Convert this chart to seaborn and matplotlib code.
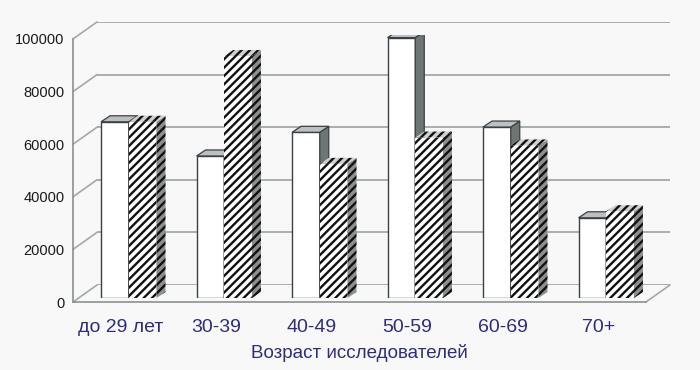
import pandas as pd
import seaborn as sns
import matplotlib
matplotlib.use("Agg")
from matplotlib import pyplot as plt
from matplotlib.patches import Polygon
from matplotlib.lines import Line2D

categories = ["до 29 лет", "30-39", "40-49", "50-59", "60-69", "70+"]
series_names = ["A", "B"]
values_a = [67000, 54000, 63000, 99000, 65000, 30500]
values_b = [67000, 92000, 51000, 61000, 58000, 33000]
y_ticks = [0, 20000, 40000, 60000, 80000, 100000]
x_title = "Возраст исследователей"

df = pd.DataFrame({
    "cat": categories * 2,
    "val": values_a + values_b,
    "series": [series_names[0]] * 6 + [series_names[1]] * 6,
})

sns.set_style("white")
plt.rcParams["font.family"] = ["Liberation Sans", "DejaVu Sans"]
plt.rcParams["hatch.linewidth"] = 1.7

W, H = 700, 370
fig = plt.figure(figsize=(7, 3.7), dpi=100, facecolor="#f8f8f8")

# pixel geometry of the pseudo 3d box
left, right, y0px, y1px = 73, 646, 302, 39
depth = (24, 17)
bar_shift = (8, 4)
side = (9, 6)

def rect(dx, dy):
    return [(left + dx) / W, (H - y0px + dy) / H, (right - left) / W, (y0px - y1px) / H]

ax_back = fig.add_axes(rect(*depth), zorder=0)
ax = fig.add_axes(rect(0, 0), zorder=1)
ax_bar = fig.add_axes(rect(*bar_shift), zorder=2)
for a in (ax_back, ax, ax_bar):
    a.set_xlim(-0.5, len(categories) - 0.5)
    a.set_ylim(0, 100000)
    a.set_facecolor("none")

# back wall grid
ax_back.set_yticks(y_ticks)
ax_back.grid(axis="y", color="#a3a8a8", lw=1.3)
ax_back.set_xticks([])
ax_back.tick_params(left=False, labelleft=False)
sns.despine(ax=ax_back, left=True, bottom=True)

# bars
sns.barplot(data=df, x="cat", y="val", hue="series", order=categories,
            palette={"A": "white", "B": "white"}, width=0.58, gap=0,
            legend=False, ax=ax_bar)
ax_bar.set_xlim(-0.5, len(categories) - 0.5)
ax_bar.set_ylim(0, 100000)
ax_bar.axis("off")

inv = ax_bar.transData.inverted()
for k, cont in enumerate(ax_bar.containers):
    for p in cont.patches:
        x0, w, h = p.get_x(), p.get_width(), p.get_height()
        x1 = x0 + w
        pts = ax_bar.transData.transform([(x0, 0), (x1, 0), (x1, h), (x0, h)])
        (ax0, ay0), (ax1, _), (_, ay1), _ = pts
        sx, sy = side
        side_pts = inv.transform([(ax1, ay0), (ax1, ay1), (ax1 + sx, ay1 + sy), (ax1 + sx, ay0 + sy)])
        top_pts = inv.transform([(ax0, ay1), (ax1, ay1), (ax1 + sx, ay1 + sy), (ax0 + sx, ay1 + sy)])
        z = 2 + 2 * k
        if k == 0:
            p.set_edgecolor("#3a4044")
            p.set_linewidth(1.0)
            p.set_zorder(z)
            ax_bar.add_patch(Polygon(side_pts, closed=True, fc="#6f7575", ec="#3a4044", lw=0.9, zorder=z + 0.5))
            ax_bar.add_patch(Polygon(top_pts, closed=True, fc="#bcc0c0", ec="#3a4044", lw=0.9, zorder=z + 0.5))
        else:
            p.set_hatch("////")
            p.set_edgecolor("#111111")
            p.set_linewidth(0)
            p.set_zorder(z)
            ax_bar.add_patch(Polygon(side_pts, closed=True, fc="#8c8f8f", ec="#111111", lw=0,
                                     hatch="////", zorder=z + 0.5))
            ax_bar.add_patch(Polygon(top_pts, closed=True, fc="#d0d0d0", ec="#111111", lw=0,
                                     hatch="////", zorder=z + 0.5))

# front axes: spines, ticks, labels
axis_col = "#8a9090"
sns.despine(ax=ax, top=True, right=True)
for s in ("left", "bottom"):
    ax.spines[s].set_color(axis_col)
    ax.spines[s].set_linewidth(1.2)
ax.set_yticks(y_ticks)
ax.set_yticklabels([str(v) for v in y_ticks], fontsize=10.5, color="#1a1a1a")
ax.tick_params(axis="y", direction="out", length=5, color=axis_col, width=1.2, pad=1)
ax.set_xticks(range(len(categories)))
ax.set_xticklabels(categories, fontsize=14, color="#2e2c7c")
ax.set_xticks([i - 0.5 for i in range(len(categories) + 1)], minor=True)
ax.tick_params(axis="x", which="major", length=0, pad=12)
ax.tick_params(axis="x", which="minor", direction="out", length=5, color=axis_col, width=1.2)
ax.set_xlabel(x_title, fontsize=13.5, color="#2e2c7c", labelpad=6)
ax.set_ylabel("")

# depth lines joining the front axis to the back wall
tf = fig.transFigure.inverted()
links = [(-0.5, v) for v in y_ticks] + [(len(categories) - 0.5, 0)]
for xv, yv in links:
    a = tf.transform(ax.transData.transform((xv, yv)))
    b = tf.transform(ax_back.transData.transform((xv, yv)))
    fig.add_artist(Line2D([a[0], b[0]], [a[1], b[1]], color="#a3a8a8", lw=1.2, zorder=0.5))

fig.savefig("out.png", dpi=100, facecolor=fig.get_facecolor())
